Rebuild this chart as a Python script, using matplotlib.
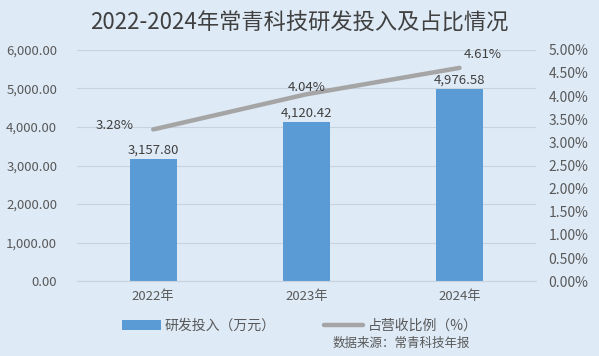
import matplotlib.pyplot as plt
from matplotlib.ticker import FuncFormatter

plt.rcParams['font.family'] = ['Noto Sans CJK SC', 'DejaVu Sans']

YEARS = ["2022年", "2023年", "2024年"]
RD_SPEND = [3157.80, 4120.42, 4976.58]
RD_RATIO = [3.28, 4.04, 4.61]
BG = "#DEEAF6"
BAR_COLOR = "#5B9BD5"
LINE_COLOR = "#A5A5A5"
TEXT = "#595959"

fig = plt.figure(figsize=(5.99, 3.56), dpi=100, facecolor=BG)
ax = fig.add_axes([0.128, 0.21, 0.767, 0.65], facecolor=BG)
ax2 = ax.twinx()

x = list(range(len(YEARS)))
ax.bar(x, RD_SPEND, width=0.31, color=BAR_COLOR, zorder=2, label="研发投入（万元）")
ax2.plot(x, RD_RATIO, color=LINE_COLOR, linewidth=3.2, solid_capstyle='round', label="占营收比例（%）")

ax.set_xlim(-0.5, 2.5)
ax.set_ylim(0, 6000)
ax.set_yticks(range(0, 6001, 1000))
ax.yaxis.set_major_formatter(FuncFormatter(lambda v, p: f"{v:,.2f}"))
ax2.set_ylim(0, 5)
ax2.set_yticks([i * 0.5 for i in range(11)])
ax2.yaxis.set_major_formatter(FuncFormatter(lambda v, p: f"{v:.2f}%"))
ax.set_xticks(x)
ax.set_xticklabels(YEARS)

ax.grid(axis='y', color="#C9D3DD", linewidth=0.8, zorder=0)
for a in (ax, ax2):
    for s in a.spines.values():
        s.set_visible(False)
    a.tick_params(length=0, colors=TEXT, labelsize=9.5)
ax.spines['bottom'].set_visible(True)
ax.spines['bottom'].set_color("#C9D3DD")
ax.tick_params(axis='x', pad=6)
ax.tick_params(axis='y', pad=14)
ax2.tick_params(axis='y', pad=9, labelsize=10)

for xi, v in zip(x, RD_SPEND):
    ax.text(xi, v + 60, f"{v:,.2f}", ha='center', va='bottom', fontsize=9.5, color="#404040", zorder=3)

# (dx, dy, ha, va) for percentage labels
offsets = [(-0.13, 0.08, 'right', 'center'), (0, 0.0, 'center', 'bottom'), (0.15, 0.15, 'center', 'bottom')]
for xi, v, (dx, dy, ha, va) in zip(x, RD_RATIO, offsets):
    ax2.text(xi + dx, v + dy, f"{v:.2f}%", ha=ha, va=va, fontsize=9.5, color="#404040")

fig.text(0.5, 0.935, "2022-2024年常青科技研发投入及占比情况", ha='center', va='center',
         fontsize=16, color="#404040")

h1, l1 = ax.get_legend_handles_labels()
h2, l2 = ax2.get_legend_handles_labels()
fig.legend(h1 + h2, l1 + l2, loc='center', bbox_to_anchor=(0.5, 0.085), ncol=2, frameon=False,
           fontsize=10, labelcolor=TEXT, handlelength=2.8, handletextpad=0.3, columnspacing=3.5)
fig.text(0.67, 0.035, "数据来源：常青科技年报", ha='center', va='center', fontsize=9, color=TEXT)

fig.savefig("out.png", dpi=100, facecolor=BG)
